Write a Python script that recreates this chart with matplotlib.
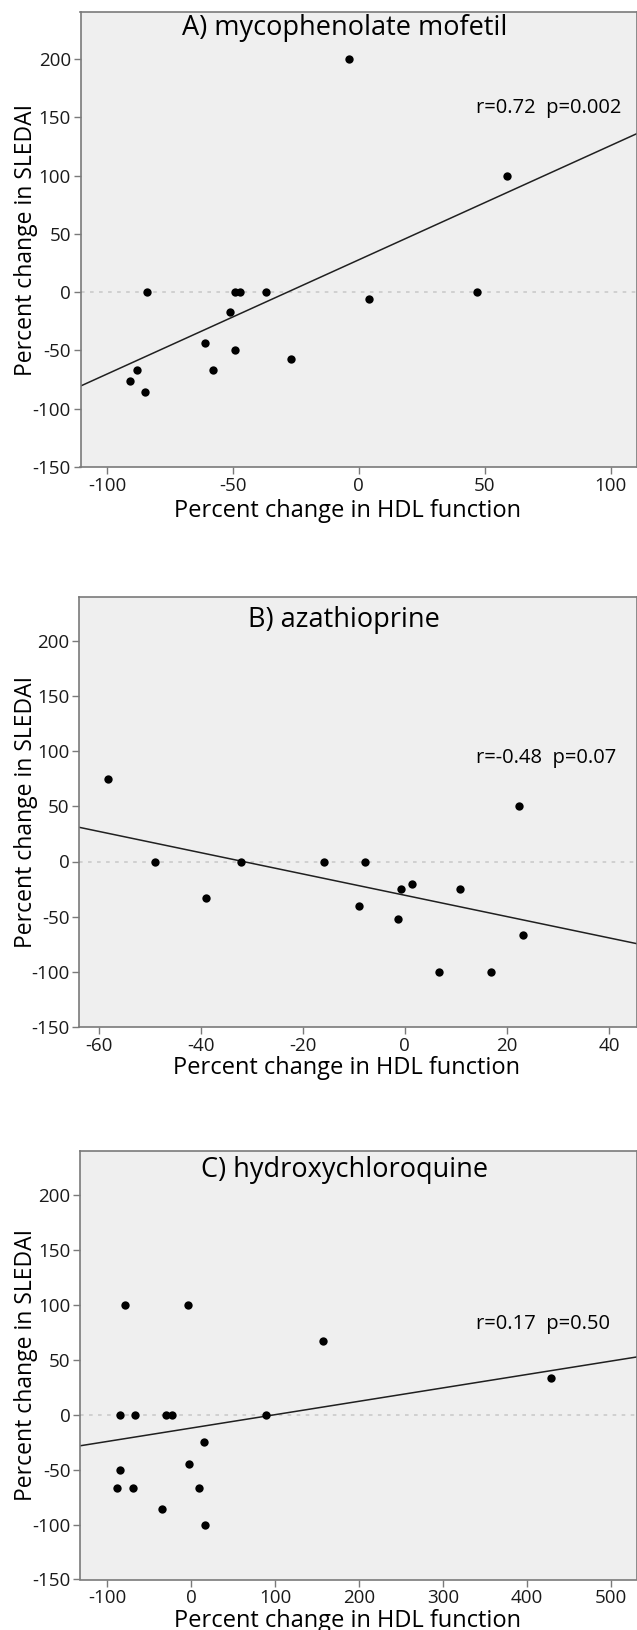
import numpy as np
import matplotlib
matplotlib.use("Agg")
import matplotlib.pyplot as plt

plt.rcParams['font.family'] = ['Open Sans', 'DejaVu Sans']
plt.rcParams['axes.unicode_minus'] = False

# A) mycophenolate mofetil
mmf_x = [-84, -4, 59, 47, 4, -49, -47, -37, -51, -61, -49, -58, -27, -88, -91, -85]
mmf_y = [0, 200, 100, 0, -6, 0, 0, 0, -17, -44, -50, -67, -57, -67, -76, -86]
mmf_fit = (27.7, 0.980)   # intercept, slope
mmf_stat = "r=0.72  p=0.002"

# B) azathioprine
aza_x = [-58.2, -49, -32.2, -39, -15.8, -7.8, -8.9, -0.8, 1.4, -1.4, 10.8, 6.6, 16.9, 22.3, 23.2]
aza_y = [75, 0, 0, -33, 0, 0, -40, -25, -20, -52, -25, -100, -100, 50, -67]
aza_fit = (-30.6, -0.965)
aza_stat = "r=-0.48  p=0.07"

# C) hydroxychloroquine
hcq_x = [-79, -3, 157, 428, -84, -66, -30, -22, 89, 15, -2, -84, -88, -69, 10, -34, 17]
hcq_y = [100, 100, 67, 33, 0, 0, 0, 0, 0, -25, -45, -50, -67, -67, -67, -86, -100]
hcq_fit = (-12.3, 0.122)
hcq_stat = "r=0.17  p=0.50"

titles = ["A) mycophenolate mofetil", "B) azathioprine", "C) hydroxychloroquine"]
xticks = [np.arange(-100, 101, 50), np.arange(-60, 41, 20), np.arange(-100, 501, 100)]
xlims = [(-110.5, 110.3), (-63.8, 45.4), (-132, 530)]
yticks = np.arange(-150, 201, 50)
ylim = (-150, 240)
stat_y = [158, 94, 82]
title_y = [0.965, 0.946, 0.955]

W, H = 637, 1630
fig = plt.figure(figsize=(W / 100, H / 100), dpi=100)

# axes boxes in pixels: left, top, bottom (right at image edge)
boxes = [(80.5, 12.3, 467), (79.3, 596.7, 1027), (80, 1150.7, 1579.5)]

panels = [(mmf_x, mmf_y, mmf_fit, mmf_stat),
          (aza_x, aza_y, aza_fit, aza_stat),
          (hcq_x, hcq_y, hcq_fit, hcq_stat)]

for i, (x, y, fit, stat) in enumerate(panels):
    l, t, b = boxes[i]
    ax = fig.add_axes([l / W, 1 - b / H, (636.5 - l) / W, (b - t) / H])
    ax.set_facecolor('#efefef')
    for s in ax.spines.values():
        s.set_color('#7a7a7a')
        s.set_linewidth(1.2)

    ax.axhline(0, color='#cdcdcd', ls=(0, (2, 3)), lw=1.3, zorder=1)
    ax.axline((0, fit[0]), slope=fit[1], color='#202020', lw=1.1, zorder=2)
    ax.scatter(x, y, s=36, color='black', zorder=3, linewidths=0)

    ax.set_xlim(*xlims[i])
    ax.set_ylim(*ylim)
    ax.set_xticks(xticks[i])
    ax.set_yticks(yticks)
    ax.tick_params(direction='out', length=5, width=1, color='#7a7a7a',
                   labelsize=13.5, labelcolor='#1a1a1a', pad=2)

    ax.text(0.475, title_y[i], titles[i], transform=ax.transAxes,
            ha='center', va='center', fontsize=19.5)
    ax.text(xlims[i][0] + 0.712 * (xlims[i][1] - xlims[i][0]), stat_y[i], stat,
            ha='left', va='center', fontsize=14.5)
    ax.text(0.48, -0.11, "Percent change in HDL function", transform=ax.transAxes,
            ha='center', va='baseline', fontsize=17)
    fig.text(26 / W, 1 - (t + b) / 2 / H, "Percent change in SLEDAI",
             rotation=90, ha='center', va='center', fontsize=16.5)

fig.savefig("out.png", dpi=100)
